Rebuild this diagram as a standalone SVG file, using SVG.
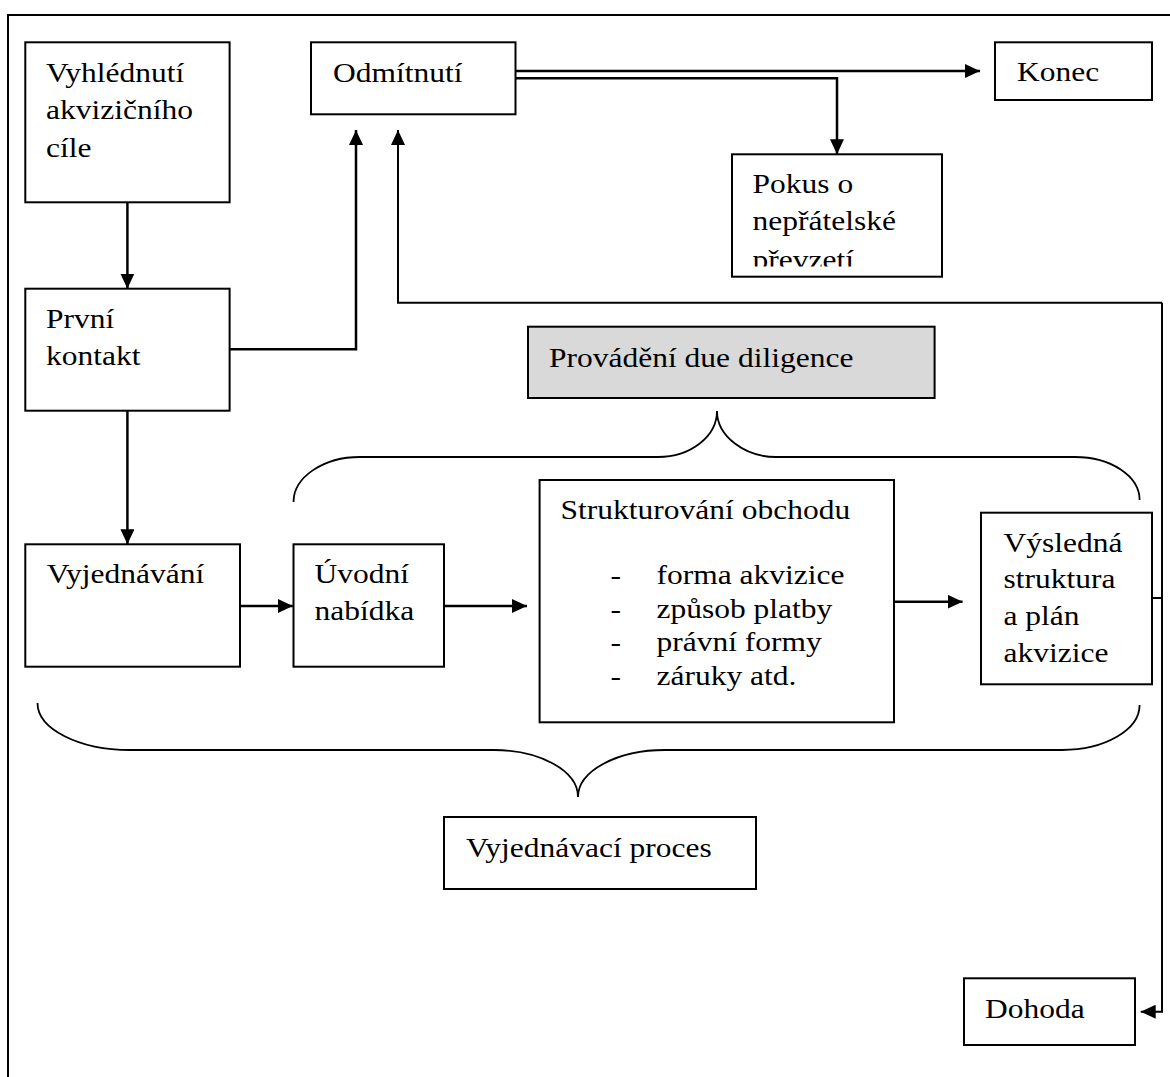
<svg xmlns="http://www.w3.org/2000/svg" width="1170" height="1077" viewBox="0 0 1170 1077">
<style>
.box{fill:#fff;stroke:#000;stroke-width:2}
.gray{fill:#d9d9d9}
.conn{fill:none;stroke:#000;stroke-width:2.5}
.thin{fill:none;stroke:#000;stroke-width:2}
.brace{fill:none;stroke:#000;stroke-width:1.8}
.t{font-family:"Liberation Serif","Times New Roman",serif;font-size:28px;fill:#000}
</style>
<defs>
<marker id="ah" markerUnits="userSpaceOnUse" markerWidth="16" markerHeight="14" refX="15" refY="7" orient="auto">
<path d="M0,0 L15,7 L0,14 z" fill="#000"/>
</marker>
<clipPath id="clipPokus"><rect x="732" y="154" width="210" height="112.5"/></clipPath>
</defs>
<rect width="1170" height="1077" fill="#fff"/>
<path d="M8,1077 V15 H1170" fill="none" stroke="#000" stroke-width="2"/>

<g id="connectors">
<path class="conn" d="M127.4,202.3 V288.7" marker-end="url(#ah)"/>
<path class="conn" d="M229.6,349.3 H356 V130" marker-end="url(#ah)"/>
<path class="thin" d="M1162,302.7 H398 V130" marker-end="url(#ah)"/>
<path class="thin" d="M1162,302.7 V1011.7 H1140.7" marker-end="url(#ah)"/>
<path class="thin" d="M1152,598 H1162"/>
<path class="conn" d="M515.5,71 H980" marker-end="url(#ah)"/>
<path class="conn" d="M515.5,78.3 H837 V154.3" marker-end="url(#ah)"/>
<path class="conn" d="M127.4,410.7 V544.3" marker-end="url(#ah)"/>
<path class="conn" d="M240,606 H292.8" marker-end="url(#ah)"/>
<path class="conn" d="M444,606 H527" marker-end="url(#ah)"/>
<path class="conn" d="M894,601.7 H962.6" marker-end="url(#ah)"/>
</g>

<g id="braces">
<path class="brace" d="M293.5,502 C293.5,477 323.6,457 360,457 H658 C690.6,457 717,436.4 717,411 C717,436.4 745,457 776,457 H1075 C1110.7,457 1139.6,476 1139.6,500"/>
<path class="brace" d="M37.5,703 C37.5,729 79,750 130,750 H494 C540.4,750 578,771 578,797 C578,771 617,750 665,750 H1062 C1104.8,750 1139.6,729.8 1139.6,705"/>
</g>

<g id="n-vyhlednuti">
<rect class="box" x="25.3" y="42.3" width="204.3" height="160"/>
<text class="t" transform="translate(46,0) scale(1.125,1)"><tspan x="0" y="82">Vyhlédnutí</tspan><tspan x="0" y="119.5">akvizičního</tspan><tspan x="0" y="157">cíle</tspan></text>
</g>
<g id="n-odmitnuti">
<rect class="box" x="311" y="42.3" width="204.5" height="72"/>
<text class="t" transform="translate(333,82) scale(1.125,1)">Odmítnutí</text>
</g>
<g id="n-konec">
<rect class="box" x="995" y="42.3" width="157" height="57.7"/>
<text class="t" transform="translate(1017,81) scale(1.125,1)">Konec</text>
</g>
<g id="n-pokus">
<rect class="box" x="732" y="154.3" width="210" height="122.4"/>
<g clip-path="url(#clipPokus)">
<text class="t" transform="translate(752.6,0) scale(1.125,1)"><tspan x="0" y="193.3">Pokus o</tspan><tspan x="0" y="230.5">nepřátelské</tspan><tspan x="0" y="269">převzetí</tspan></text>
</g>
</g>
<g id="n-prvni">
<rect class="box" x="25.3" y="288.7" width="204.3" height="122"/>
<text class="t" transform="translate(46,0) scale(1.125,1)"><tspan x="0" y="328">První</tspan><tspan x="0" y="365">kontakt</tspan></text>
</g>
<g id="n-duediligence">
<rect class="box gray" x="528" y="326.7" width="406.6" height="71.3"/>
<text class="t" transform="translate(549,366.7) scale(1.125,1)">Provádění due diligence</text>
</g>
<g id="n-vyjednavani">
<rect class="box" x="25.3" y="544.3" width="214.7" height="122.4"/>
<text class="t" transform="translate(46.7,583) scale(1.125,1)">Vyjednávání</text>
</g>
<g id="n-uvodni">
<rect class="box" x="293.5" y="544.3" width="150.5" height="122.4"/>
<text class="t" transform="translate(314.6,0) scale(1.125,1)"><tspan x="0" y="583">Úvodní</tspan><tspan x="0" y="620">nabídka</tspan></text>
</g>
<g id="n-strukturovani">
<rect class="box" x="539.6" y="480" width="354.4" height="242.3"/>
<text class="t" transform="translate(560.6,519) scale(1.125,1)">Strukturování obchodu</text>
<text class="t" transform="translate(610.6,0) scale(1.125,1)"><tspan x="0" y="584">-</tspan><tspan x="0" y="617.7">-</tspan><tspan x="0" y="651.3">-</tspan><tspan x="0" y="685">-</tspan></text>
<text class="t" transform="translate(656.5,0) scale(1.125,1)"><tspan x="0" y="584">forma akvizice</tspan><tspan x="0" y="617.7">způsob platby</tspan><tspan x="0" y="651.3">právní formy</tspan><tspan x="0" y="685">záruky atd.</tspan></text>
</g>
<g id="n-vysledna">
<rect class="box" x="981" y="512.7" width="171" height="171.6"/>
<text class="t" transform="translate(1003.5,0) scale(1.125,1)"><tspan x="0" y="551.7">Výsledná</tspan><tspan x="0" y="588.3">struktura</tspan><tspan x="0" y="625">a plán</tspan><tspan x="0" y="661.7">akvizice</tspan></text>
</g>
<g id="n-proces">
<rect class="box" x="444" y="817" width="312" height="72"/>
<text class="t" transform="translate(466,856.7) scale(1.125,1)">Vyjednávací proces</text>
</g>
<g id="n-dohoda">
<rect class="box" x="964" y="978.3" width="171" height="66.7"/>
<text class="t" transform="translate(985,1018.3) scale(1.125,1)">Dohoda</text>
</g>
</svg>
